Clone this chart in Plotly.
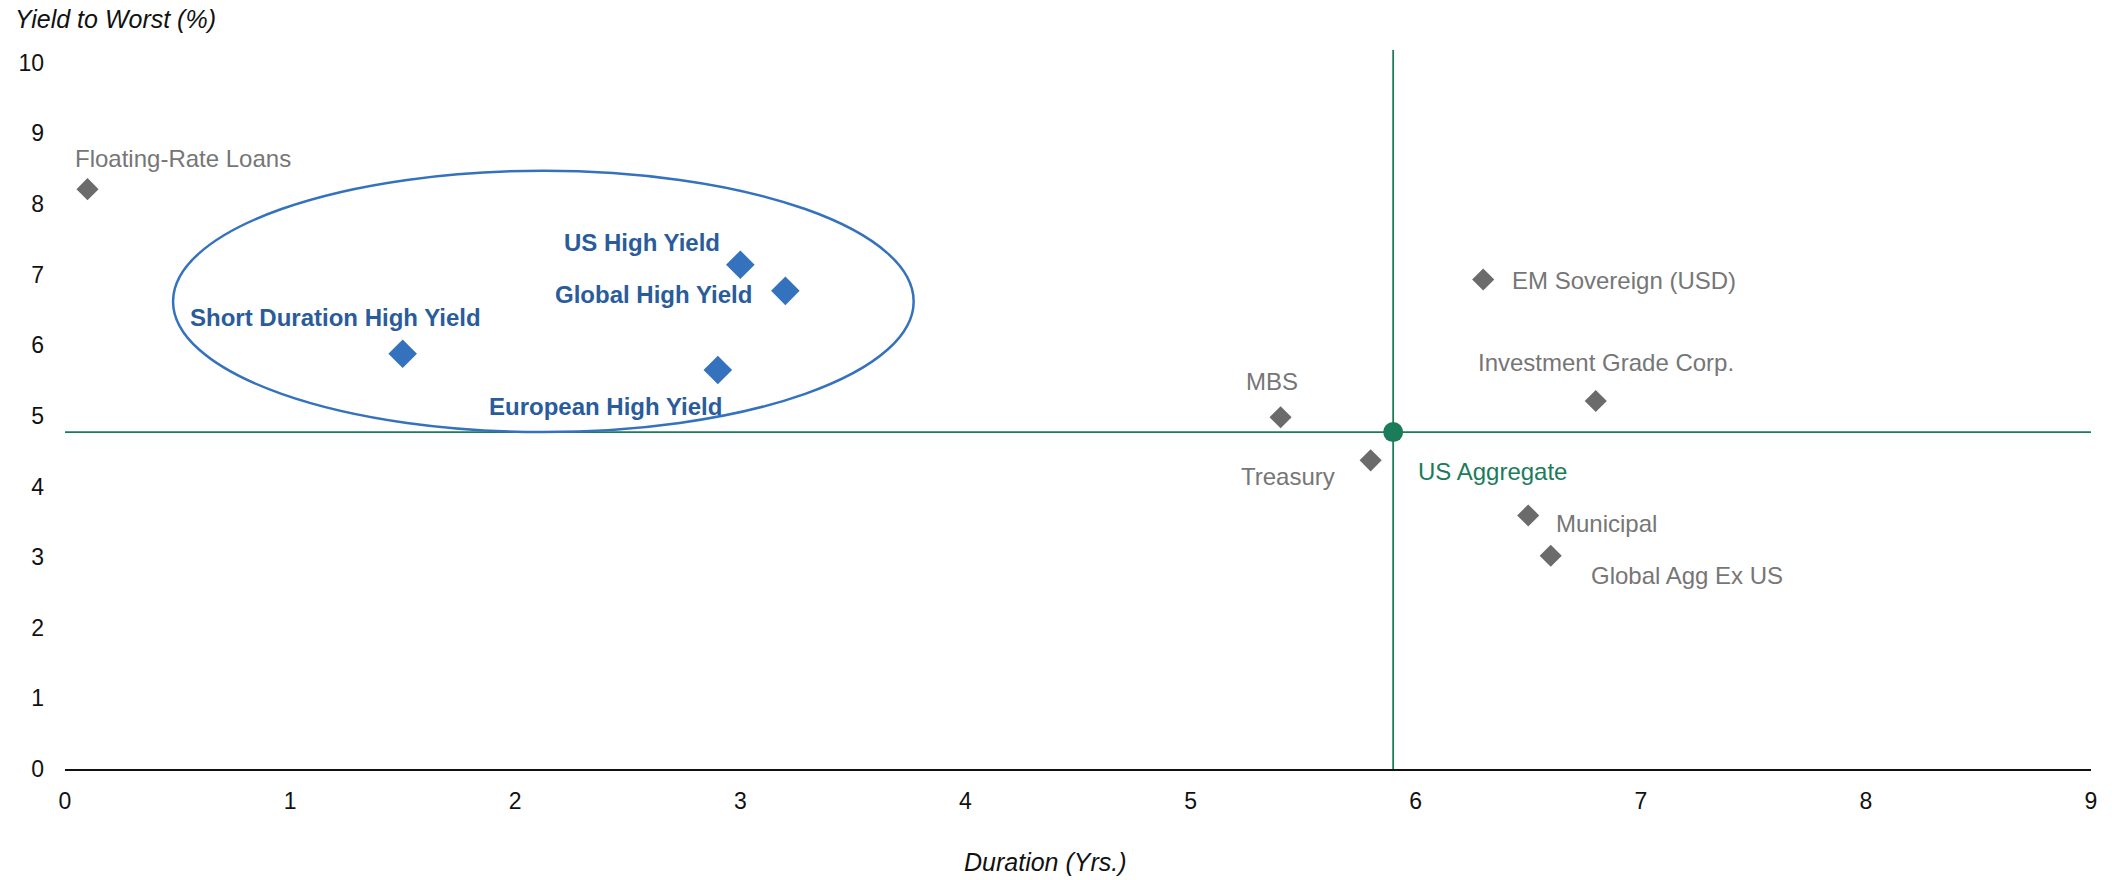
import plotly.graph_objects as go

FONT = "Arial, 'Liberation Sans', sans-serif"

# high yield sectors (highlighted in blue)
hy_names = ["US High Yield", "Global High Yield", "Short Duration High Yield", "European High Yield"]
hy_duration = [3.0, 3.2, 1.5, 2.9]
hy_ytw = [7.14, 6.77, 5.88, 5.65]

# other fixed income sectors (gray)
other_names = [
    "Floating-Rate Loans", "MBS", "Treasury", "EM Sovereign (USD)",
    "Investment Grade Corp.", "Municipal", "Global Agg Ex US",
]
other_duration = [0.1, 5.4, 5.8, 6.3, 6.8, 6.5, 6.6]
other_ytw = [8.21, 4.98, 4.37, 6.93, 5.21, 3.59, 3.02]

# benchmark
agg_name = "US Aggregate"
agg_duration = 5.9
agg_ytw = 4.77

x_ticks = list(range(0, 10))
y_ticks = list(range(0, 11))

BLUE = "#3572BE"
BLUE_TXT = "#2A5C9C"
GRAY = "#6B6B6B"
GRAY_TXT = "#767676"
GREEN = "#1B7C5A"

# label placement (anchor, xshift px, yshift px)
hy_label_pos = [("right", -18, 22), ("right", -31, -4), ("center", -67, 36), ("center", -112, -37)]
other_label_pos = [
    ("left", -15, 31), ("center", -9, 36), ("right", -34, -16), ("left", 27, -1),
    ("center", 10, 39), ("left", 26, -8), ("left", 38, -20),
]
agg_label_pos = ("left", 23, -39)

fig = go.Figure()
fig.add_trace(go.Scatter(
    x=other_duration, y=other_ytw, mode="markers",
    marker=dict(symbol="diamond", size=17, color=GRAY),
    hovertext=other_names, showlegend=False,
))
fig.add_trace(go.Scatter(
    x=hy_duration, y=hy_ytw, mode="markers",
    marker=dict(symbol="diamond", size=22, color=BLUE),
    hovertext=hy_names, showlegend=False,
))
fig.add_trace(go.Scatter(
    x=[agg_duration], y=[agg_ytw], mode="markers",
    marker=dict(symbol="circle", size=20, color=GREEN),
    hovertext=[agg_name], showlegend=False,
))

annotations = []
for name, x, y, (anc, dx, dy) in zip(hy_names, hy_duration, hy_ytw, hy_label_pos):
    annotations.append(dict(
        x=x, y=y, text=f"<b>{name}</b>", showarrow=False, xanchor=anc, yanchor="middle",
        xshift=dx, yshift=dy, font=dict(size=24, color=BLUE_TXT, family=FONT),
    ))
for name, x, y, (anc, dx, dy) in zip(other_names, other_duration, other_ytw, other_label_pos):
    annotations.append(dict(
        x=x, y=y, text=name, showarrow=False, xanchor=anc, yanchor="middle",
        xshift=dx, yshift=dy, font=dict(size=24, color=GRAY_TXT, family=FONT),
    ))
anc, dx, dy = agg_label_pos
annotations.append(dict(
    x=agg_duration, y=agg_ytw, text=agg_name, showarrow=False, xanchor=anc, yanchor="middle",
    xshift=dx, yshift=dy, font=dict(size=24, color=GREEN, family=FONT),
))
# axis titles
annotations.append(dict(
    x=13, y=19, xref="paper", yref="paper", text="<i>Yield to Worst (%)</i>", showarrow=False,
    xanchor="left", yanchor="middle", font=dict(size=25, color="#111111", family=FONT),
))
annotations.append(dict(
    x=1045, y=862, xref="paper", yref="paper", text="<i>Duration (Yrs.)</i>", showarrow=False,
    xanchor="center", yanchor="middle", font=dict(size=25, color="#111111", family=FONT),
))
# convert pixel positions of titles to paper fractions
W, H = 2112, 880
ML, MR, MT, MB = 65, 21, 50, 111
pw, ph = W - ML - MR, H - MT - MB
for a in annotations[-2:]:
    a["x"] = (a["x"] - ML) / pw
    a["y"] = (H - MB - a["y"]) / ph

shapes = [
    dict(type="circle", xref="x", yref="y", x0=0.48, x1=3.77, y0=4.77, y1=8.47,
         line=dict(color=BLUE, width=2.5), layer="below"),
    dict(type="line", xref="paper", yref="y", x0=0, x1=1, y0=agg_ytw, y1=agg_ytw,
         line=dict(color=GREEN, width=1.8), layer="below"),
    dict(type="line", xref="x", yref="paper", x0=agg_duration, x1=agg_duration, y0=0, y1=1,
         line=dict(color=GREEN, width=1.8), layer="below"),
]

fig.update_layout(
    width=W, height=H,
    margin=dict(l=ML, r=MR, t=MT, b=MB, autoexpand=False),
    plot_bgcolor="white", paper_bgcolor="white",
    font=dict(family=FONT, size=23, color="#111111"),
    annotations=annotations, shapes=shapes,
)
fig.update_xaxes(
    range=[0, 9], tickvals=x_ticks, showgrid=False, zeroline=False, automargin=False,
    showline=True, linecolor="#111111", linewidth=2, ticks="", ticklabelstandoff=10,
)
fig.update_yaxes(
    range=[0, 10.18], tickvals=y_ticks, showgrid=False, zeroline=False, automargin=False,
    showline=False, ticks="", ticklabelstandoff=20,
)

# drop the default page margin so the figure sits at the top-left corner
fig.write_html(
    "out.html",
    config={"displayModeBar": False},
    post_script="document.body.style.margin='0';",
)
